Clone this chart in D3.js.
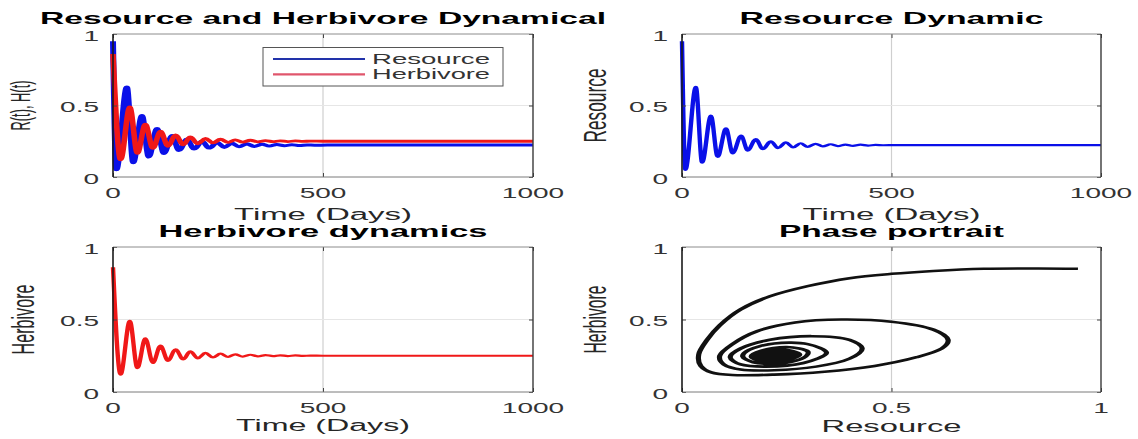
<!DOCTYPE html>
<html><head><meta charset="utf-8">
<script src="https://cdn.jsdelivr.net/npm/d3@7"></script>
<style>body{margin:0;background:#fff}svg{display:block}</style>
</head><body>
<svg id="chart" width="1138" height="439"></svg>
<script>
// ---------------- data ----------------
const timeTicks = [0, 500, 1000];
const timeTickLabels = ["0", "500", "1000"];
const valueTicks = [0, 0.5, 1];
const valueTickLabels = ["0", "0.5", "1"];
const seriesNames = ["Resource", "Herbivore"];

// Resource R(t): turning points of the damped oscillation
const resourceTime  = [0, 8, 33, 48, 69, 85, 105, 121, 141, 157, 176, 193, 212, 229, 248, 265, 283, 300, 319, 336, 355, 372, 390, 408, 426, 444, 462, 480, 510, 1000];
const resourceValue = [0.95, 0.05, 0.63, 0.10, 0.43, 0.14, 0.34, 0.165, 0.29, 0.185, 0.265, 0.195, 0.25, 0.202, 0.242, 0.207, 0.236, 0.211, 0.232, 0.214, 0.229, 0.216, 0.227, 0.218, 0.226, 0.22, 0.224, 0.222, 0.223, 0.223];

// Herbivore H(t)
const herbivoreTime  = [0, 18, 40, 58, 77, 95, 113, 131, 149, 167, 184, 202, 220, 238, 256, 274, 291, 309, 327, 345, 363, 381, 398, 416, 434, 452, 470, 500, 1000];
const herbivoreValue = [0.86, 0.12, 0.49, 0.165, 0.37, 0.20, 0.32, 0.215, 0.295, 0.225, 0.28, 0.232, 0.27, 0.238, 0.264, 0.242, 0.26, 0.244, 0.257, 0.246, 0.255, 0.247, 0.253, 0.248, 0.252, 0.249, 0.251, 0.25, 0.25];

// Phase portrait trajectory (Resource, Herbivore) in order of travel
const phaseResource  = [0.945, 0.85, 0.72, 0.60, 0.50, 0.40, 0.30, 0.21, 0.14, 0.09, 0.06, 0.04, 0.045, 0.07, 0.12, 0.22, 0.34, 0.46, 0.56, 0.62, 0.635, 0.60, 0.50, 0.38, 0.27, 0.18, 0.12, 0.09, 0.10, 0.14, 0.22, 0.32, 0.40, 0.43, 0.40, 0.31, 0.21, 0.14, 0.115, 0.14, 0.20, 0.29, 0.345, 0.30, 0.22, 0.16, 0.145, 0.17, 0.23, 0.29, 0.30, 0.25, 0.19, 0.165, 0.185,
  0.225, 0.281, 0.232, 0.166, 0.22, 0.273, 0.23, 0.174, 0.221, 0.266, 0.229, 0.181, 0.221, 0.259, 0.228, 0.188, 0.222, 0.253, 0.227, 0.194, 0.222, 0.247, 0.226, 0.20, 0.222, 0.241, 0.225, 0.206, 0.223, 0.235, 0.224, 0.212, 0.223, 0.23, 0.223, 0.217, 0.223];
const phaseHerbivore = [0.85, 0.852, 0.85, 0.835, 0.815, 0.785, 0.73, 0.66, 0.57, 0.46, 0.36, 0.26, 0.18, 0.135, 0.117, 0.12, 0.14, 0.18, 0.24, 0.30, 0.36, 0.43, 0.485, 0.50, 0.48, 0.42, 0.33, 0.25, 0.19, 0.155, 0.15, 0.175, 0.23, 0.30, 0.36, 0.385, 0.36, 0.30, 0.24, 0.19, 0.175, 0.20, 0.27, 0.33, 0.335, 0.29, 0.245, 0.205, 0.195, 0.235, 0.28, 0.31, 0.285, 0.245, 0.215,
  0.203, 0.258, 0.297, 0.247, 0.212, 0.257, 0.29, 0.247, 0.217, 0.256, 0.284, 0.248, 0.223, 0.255, 0.278, 0.248, 0.228, 0.254, 0.273, 0.249, 0.233, 0.253, 0.268, 0.249, 0.238, 0.252, 0.263, 0.249, 0.242, 0.251, 0.259, 0.25, 0.246, 0.251, 0.255, 0.25, 0.25];

// ---------------- drawing ----------------
const SX = 2; // horizontal stretch of the original picture
const FONT = "'Liberation Sans', Arial, Helvetica, sans-serif";
const svg = d3.select("#chart");
svg.append("rect").attr("width", 1138).attr("height", 439).attr("fill", "#fff");

function sText(parent, x, y, str, o) {
  const t = parent.append("text")
    .attr("transform", `translate(${x},${y}) scale(${SX},1)` + (o.rotate ? " rotate(-90)" : ""))
    .attr("text-anchor", o.anchor || "middle")
    .attr("font-family", FONT)
    .attr("font-size", o.size)
    .attr("font-weight", o.weight || "normal")
    .attr("fill", o.color || "#262626")
    .text(str);
  if (o.dy) t.attr("dy", o.dy);
  if (o.width) t.attr("textLength", o.width / SX).attr("lengthAdjust", "spacingAndGlyphs");
  if (o.len) t.attr("textLength", o.len).attr("lengthAdjust", "spacingAndGlyphs");
  return t;
}

const panels = [
  {x0: 113, x1: 533, y0: 34, y1: 177, xdom: [0, 1000], xt: timeTicks, xtl: timeTickLabels,
   title: "Resource and Herbivore Dynamical", tw: 566, xlabel: "Time (Days)", xlw: 178, xly: 220,
   ylabel: "R(t), H(t)", ylx: 20, yll: 50, yls: 14},
  {x0: 682, x1: 1101, y0: 34, y1: 177, xdom: [0, 1000], xt: timeTicks, xtl: timeTickLabels,
   title: "Resource Dynamic", tw: 304, xlabel: "Time (Days)", xlw: 178, xly: 220,
   ylabel: "Resource", ylx: 595, yll: 74, yls: 16},
  {x0: 113, x1: 533, y0: 247, y1: 392, xdom: [0, 1000], xt: timeTicks, xtl: timeTickLabels,
   title: "Herbivore dynamics", tw: 329, xlabel: "Time (Days)", xlw: 174, xly: 431,
   ylabel: "Herbivore", ylx: 23, yll: 70, yls: 16},
  {x0: 682, x1: 1101, y0: 247, y1: 392, xdom: [0, 1], xt: valueTicks, xtl: valueTickLabels,
   title: "Phase portrait", tw: 225, xlabel: "Resource", xlw: 140, xly: 432,
   ylabel: "Herbivore", ylx: 595, yll: 68, yls: 16}
];

panels.forEach(p => {
  p.xs = d3.scaleLinear().domain(p.xdom).range([p.x0, p.x1]);
  p.xsu = d3.scaleLinear().domain(p.xdom).range([0, (p.x1 - p.x0) / SX]); // unstretched
  p.ys = d3.scaleLinear().domain([0, 1]).range([p.y1, p.y0]);
  const g = svg.append("g");
  g.selectAll(".gx").data(p.xt.slice(1, -1)).join("line")
    .attr("x1", d => p.xs(d)).attr("x2", d => p.xs(d)).attr("y1", p.y0).attr("y2", p.y1)
    .attr("stroke", "#cfcfcf").attr("stroke-width", 1.2);
  g.selectAll(".gy").data(valueTicks.slice(1, -1)).join("line")
    .attr("x1", p.x0).attr("x2", p.x1).attr("y1", d => p.ys(d)).attr("y2", d => p.ys(d))
    .attr("stroke", "#e6e6e6").attr("stroke-width", 1);
});

function frame(p) {
  const g = svg.append("g");
  const axB = d3.axisBottom(p.xs).tickValues(p.xt).tickSize(-4).tickFormat("");
  const axT = d3.axisTop(p.xs).tickValues(p.xt).tickSize(-4).tickFormat("");
  const axL = d3.axisLeft(p.ys).tickValues(valueTicks).tickSize(-4).tickFormat("");
  const axR = d3.axisRight(p.ys).tickValues(valueTicks).tickSize(-4).tickFormat("");
  [[axB, `translate(0,${p.y1})`], [axT, `translate(0,${p.y0})`], [axL, `translate(${p.x0},0)`], [axR, `translate(${p.x1},0)`]]
    .forEach(([ax, tr]) => {
      const a = g.append("g").attr("transform", tr).call(ax);
      a.select(".domain").remove();
      a.selectAll("line").attr("stroke", "#444");
    });
  g.append("line").attr("x1", p.x0).attr("x2", p.x1).attr("y1", p.y0).attr("y2", p.y0).attr("stroke", "#8c8c8c").attr("stroke-width", 1);
  g.append("line").attr("x1", p.x0).attr("x2", p.x1).attr("y1", p.y1).attr("y2", p.y1).attr("stroke", "#7a7a7a").attr("stroke-width", 1);
  g.append("line").attr("x1", p.x0).attr("x2", p.x0).attr("y1", p.y0).attr("y2", p.y1).attr("stroke", "#1a1a1a").attr("stroke-width", 1.6);
  g.append("line").attr("x1", p.x1).attr("x2", p.x1).attr("y1", p.y0).attr("y2", p.y1).attr("stroke", "#3a3a3a").attr("stroke-width", 1.4);
  p.xt.forEach((v, i) => sText(g, p.xs(v), p.y1 + 21, p.xtl[i], {size: 14, color: "#333"}));
  valueTicks.forEach((v, i) => sText(g, p.x0 - 14, p.ys(v) + 1.5, valueTickLabels[i], {size: 14, anchor: "end", dy: "0.36em", color: "#333"}));
  sText(g, (p.x0 + p.x1) / 2, p.y0 - 10, p.title, {size: 16.5, weight: "bold", width: p.tw, color: "#000"});
  sText(g, (p.x0 + p.x1) / 2, p.xly, p.xlabel, {size: 16, width: p.xlw, color: "#262626"});
  sText(g, p.ylx, (p.y0 + p.y1) / 2, p.ylabel, {size: p.yls, rotate: true, dy: "0.35em", len: p.yll, color: "#262626"});
}

function series(p, xs, ys, color, width, curve) {
  const g = svg.append("g").attr("transform", `translate(${p.x0},0) scale(${SX},1)`);
  const pts = xs.map((x, i) => [x, ys[i]]);
  const line = d3.line().x(d => p.xsu(d[0])).y(d => p.ys(d[1])).curve(curve);
  g.append("path").attr("d", line(pts)).attr("fill", "none")
    .attr("stroke", color).attr("stroke-width", width)
    .attr("stroke-linejoin", "round").attr("stroke-linecap", "butt");
}

const BLUE = "#0a10e8", RED = "#f01818";
series(panels[0], resourceTime, resourceValue, BLUE, 3.0, d3.curveMonotoneX);
series(panels[0], herbivoreTime, herbivoreValue, RED, 2.8, d3.curveMonotoneX);
series(panels[1], resourceTime, resourceValue, BLUE, 2.2, d3.curveMonotoneX);
series(panels[2], herbivoreTime, herbivoreValue, RED, 2.2, d3.curveMonotoneX);
series(panels[3], phaseResource, phaseHerbivore, "#111", 2.6, d3.curveCatmullRom.alpha(0.5));

panels.forEach(frame);

// legend in panel 1
const lg = svg.append("g");
lg.append("rect").attr("x", 263).attr("y", 47.5).attr("width", 240).attr("height", 38.5)
  .attr("fill", "#fff").attr("stroke", "#555").attr("stroke-width", 1);
const legendColors = ["#2233aa", "#e0566c"];
seriesNames.forEach((name, i) => {
  const y = 59 + i * 15.3;
  lg.append("line").attr("x1", 273).attr("x2", 365).attr("y1", y).attr("y2", y)
    .attr("stroke", legendColors[i]).attr("stroke-width", 2.2);
  sText(lg, 372, y + 5, name, {size: 14, anchor: "start", width: 118, color: "#333"});
});
</script>
</body></html>
